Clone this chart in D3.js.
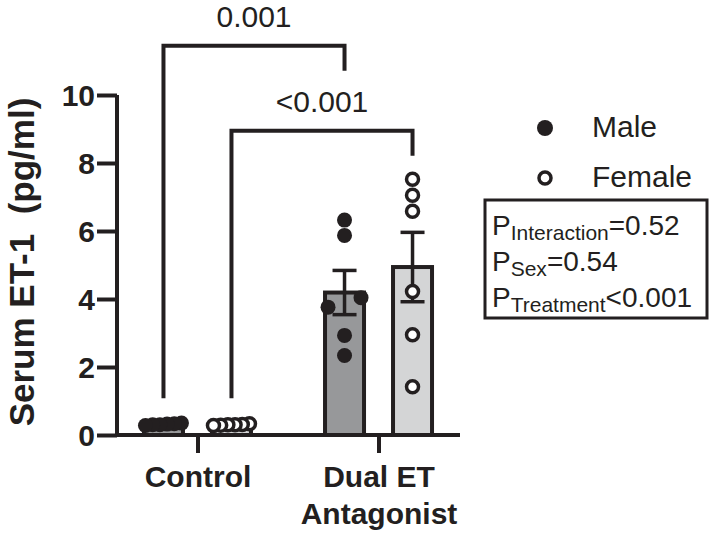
<!DOCTYPE html>
<head>
<meta charset="utf-8">
<style>
body { margin: 0; background: #fff; }
text { font-family: Arial, "Liberation Sans", sans-serif; fill: #231f20; }
.axis path, .axis line { stroke: #231f20; stroke-width: 4px; }
</style>
</head>
<body>
<script src="https://cdn.jsdelivr.net/npm/d3@7"></script>
<script>

// data
var treatments = ["Control", "Dual ET Antagonist"];
var sexes = ["Male", "Female"];
var yTicks = [0, 2, 4, 6, 8, 10];

var barMeans = {
  "Control":            [0.31, 0.30],
  "Dual ET Antagonist": [4.19, 4.94]
};
var barSems = {
  "Control":            [0.01, 0.01],
  "Dual ET Antagonist": [0.65, 1.02]
};
var points = {
  "Control|Male":              [0.28, 0.30, 0.32, 0.35, 0.30, 0.33],
  "Control|Female":            [0.30, 0.28, 0.33, 0.31, 0.29, 0.30],
  "Dual ET Antagonist|Male":   [6.32, 5.87, 4.04, 3.76, 2.93, 2.34],
  "Dual ET Antagonist|Female": [7.52, 7.05, 6.58, 4.22, 2.95, 1.42]
};
var brackets = [
  {from: ["Control", "Male"],   to: ["Dual ET Antagonist", "Male"],   level: 11.45, label: "0.001"},
  {from: ["Control", "Female"], to: ["Dual ET Antagonist", "Female"], level: 8.95,  label: "<0.001"}
];
var statLines = [
  {sub: "Interaction", rest: "=0.52"},
  {sub: "Sex", rest: "=0.54"},
  {sub: "Treatment", rest: "<0.001"}
];

var width = 710, height = 534;
var dark = "#231f20";
var fills = {"Male": "#97989a", "Female": "#d4d5d6"};

var svg = d3.select("body").append("svg")
    .attr("width", width)
    .attr("height", height);

var y = d3.scaleLinear().domain([0, 10]).range([435, 95]);
var x = d3.scalePoint().domain(treatments).range([116, 460]).padding(0.45);
var xs = d3.scalePoint().domain(sexes).range([-34, 34]);

function cx(t, s) { return x(t) + xs(s); }

// y axis
var yAxis = svg.append("g")
    .attr("class", "axis")
    .attr("transform", "translate(117,0)")
    .call(d3.axisLeft(y).tickValues(yTicks).tickSize(20).tickSizeOuter(0));
yAxis.selectAll("text")
    .attr("x", -22)
    .attr("dy", "0.36em")
    .style("font-size", "30px")
    .style("font-weight", "bold");
yAxis.select(".domain").attr("d", "M0," + (y(0) + 2) + "V" + y(10));

// x axis
var xAxis = svg.append("g")
    .attr("class", "axis")
    .attr("transform", "translate(0,435)")
    .call(d3.axisBottom(x).tickSize(18).tickSizeOuter(0));
xAxis.select(".domain").attr("d", "M115,0H460");
xAxis.selectAll("text").remove();
xAxis.selectAll(".tick").each(function(d) {
  var words = d == "Control" ? ["Control"] : ["Dual ET", "Antagonist"];
  var t = d3.select(this).append("text")
      .attr("text-anchor", "middle")
      .style("font-size", "30px")
      .style("font-weight", "bold");
  words.forEach(function(w, i) {
    t.append("tspan").attr("x", 0).attr("y", 52 + i * 37).text(w);
  });
});

// axis title
svg.append("text")
    .attr("transform", "translate(34,262) rotate(-90)")
    .attr("text-anchor", "middle")
    .style("font-size", "35px")
    .style("font-weight", "bold")
    .style("white-space", "pre")
    .text("Serum ET-1  (pg/ml)");

// bars
var barData = [];
treatments.forEach(function(t) {
  sexes.forEach(function(s, i) {
    barData.push({t: t, s: s, mean: barMeans[t][i], sem: barSems[t][i]});
  });
});

var bw = 39;
svg.append("g").selectAll("rect")
    .data(barData)
    .enter().append("rect")
    .attr("x", function(d) { return cx(d.t, d.s) - bw / 2; })
    .attr("y", function(d) { return y(d.mean); })
    .attr("width", bw)
    .attr("height", function(d) { return y(0) - y(d.mean); })
    .attr("fill", function(d) { return fills[d.s]; })
    .attr("stroke", dark)
    .attr("stroke-width", 4);

// points, dodged sideways where they would overlap
var r = 7.5;
var pointData = [];
Object.keys(points).forEach(function(key) {
  var parts = key.split("|");
  var vals = points[key].slice().sort(function(a, b) { return b - a; });
  var groups = [];
  vals.forEach(function(v) {
    var g = groups[groups.length - 1];
    if (g && y(v) - y(g[g.length - 1]) < 14) g.push(v);
    else groups.push([v]);
  });
  groups.forEach(function(g) {
    var step = g.length > 1 ? Math.min(33, 36 / (g.length - 1)) : 0;
    g.forEach(function(v, i) {
      pointData.push({t: parts[0], s: parts[1], v: v,
                      off: ((g.length - 1) / 2 - i) * step});
    });
  });
});

// error bars
var eb = svg.append("g").attr("stroke", dark).attr("stroke-width", 3.5);
barData.forEach(function(d) {
  if (d.t == "Control") return;
  var c = cx(d.t, d.s);
  eb.append("line").attr("x1", c).attr("x2", c)
      .attr("y1", y(d.mean + d.sem)).attr("y2", y(d.mean - d.sem));
  [d.mean + d.sem, d.mean - d.sem].forEach(function(e) {
    eb.append("line").attr("x1", c - 12).attr("x2", c + 12)
        .attr("y1", y(e)).attr("y2", y(e));
  });
});

svg.append("g").selectAll("circle")
    .data(pointData)
    .enter().append("circle")
    .attr("cx", function(d) { return cx(d.t, d.s) + d.off; })
    .attr("cy", function(d) { return y(d.v); })
    .attr("r", function(d) { return d.s == "Male" ? r : 6; })
    .attr("fill", function(d) { return d.s == "Male" ? dark : "#fff"; })
    .attr("stroke", dark)
    .attr("stroke-width", function(d) { return d.s == "Male" ? 0 : 3.5; });

// significance brackets
var bg = svg.append("g");
brackets.forEach(function(b) {
  var x1 = cx(b.from[0], b.from[1]), x2 = cx(b.to[0], b.to[1]);
  var top = y(b.level);
  bg.append("path")
      .attr("d", "M" + x1 + "," + y(1.08) + "V" + top + "H" + x2 + "V" + (top + 25))
      .attr("fill", "none")
      .attr("stroke", dark)
      .attr("stroke-width", 4);
  bg.append("text")
      .attr("x", (x1 + x2) / 2)
      .attr("y", top - 19)
      .attr("text-anchor", "middle")
      .style("font-size", "30px")
      .text(b.label);
});

// legend
var leg = svg.append("g");
sexes.forEach(function(s, i) {
  var ly = 128 + i * 50;
  leg.append("circle")
      .attr("cx", 545).attr("cy", ly)
      .attr("r", s == "Male" ? 8 : 6)
      .attr("fill", s == "Male" ? dark : "#fff")
      .attr("stroke", dark)
      .attr("stroke-width", s == "Male" ? 0 : 3.5);
  leg.append("text")
      .attr("x", 592).attr("y", ly + 9)
      .style("font-size", "30px")
      .text(s);
});

// stats box
svg.append("rect")
    .attr("x", 485).attr("y", 200)
    .attr("width", 222).attr("height", 118)
    .attr("fill", "none")
    .attr("stroke", dark)
    .attr("stroke-width", 3);

statLines.forEach(function(l, i) {
  var t = svg.append("text")
      .attr("x", 492)
      .attr("y", 235 + i * 36)
      .style("font-size", "28px");
  t.append("tspan").text("P");
  t.append("tspan").attr("dy", 5).style("font-size", "21px").text(l.sub);
  t.append("tspan").attr("dy", -5).text(l.rest);
});

</script>
</body>
</html>
